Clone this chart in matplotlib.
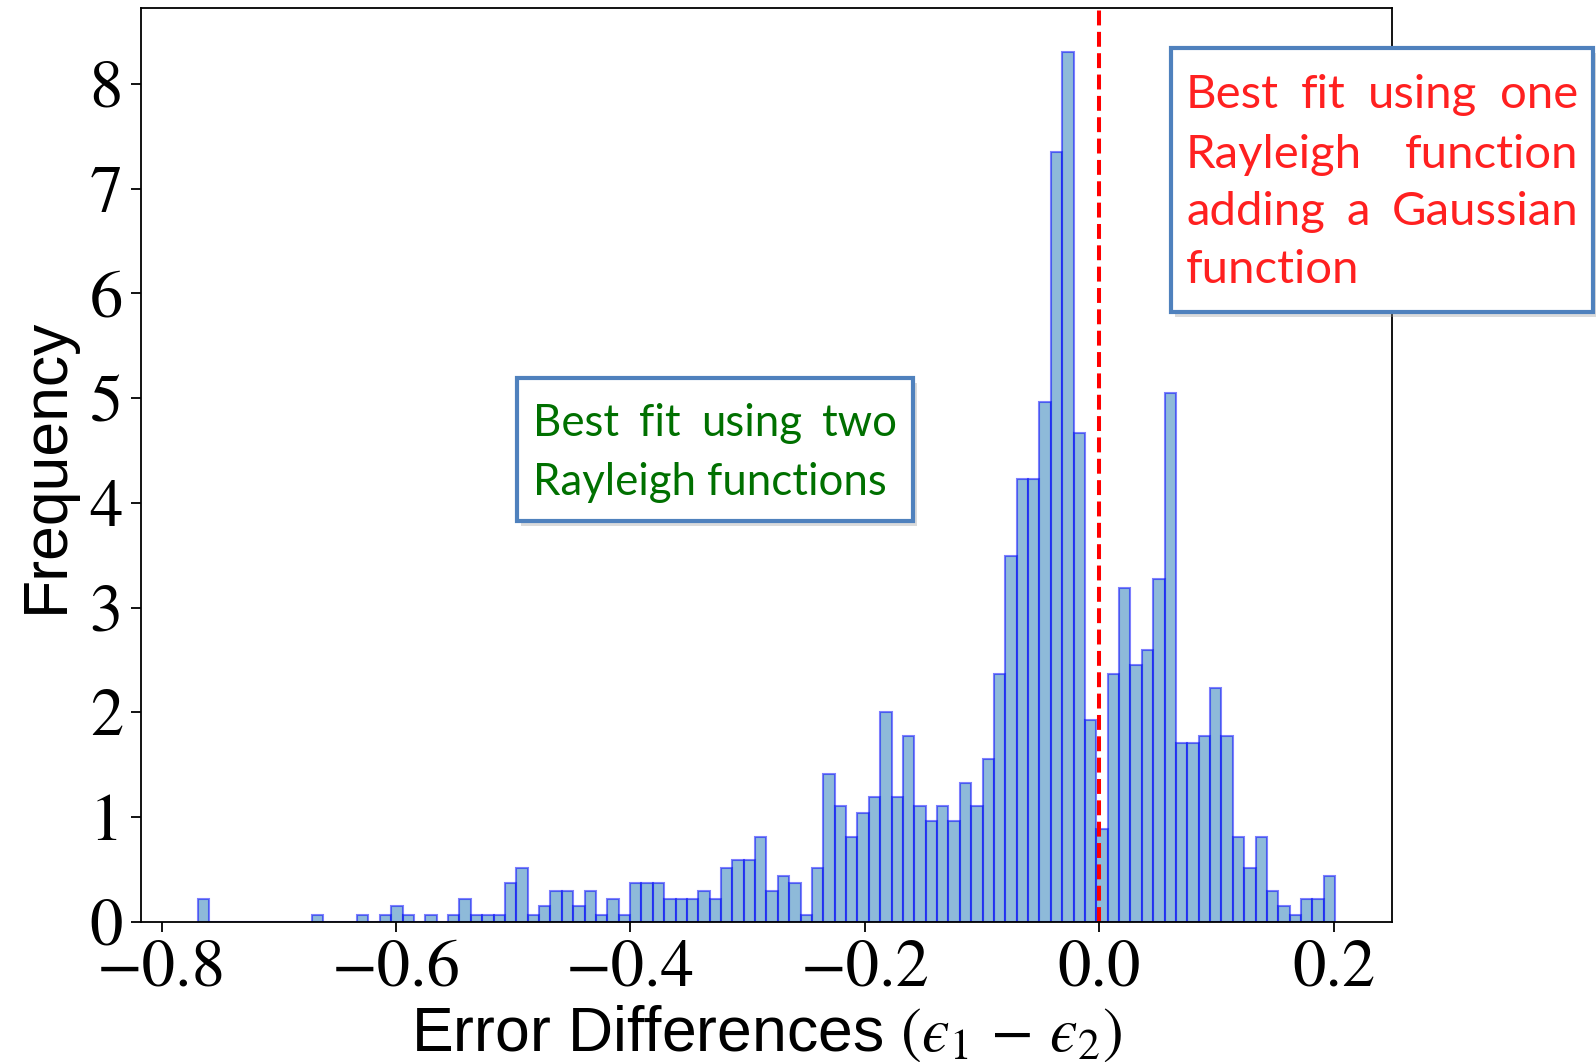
import numpy as np
import matplotlib
matplotlib.use("Agg")
import matplotlib.pyplot as plt
from matplotlib.patches import Rectangle
from matplotlib.ticker import MultipleLocator

plt.rcParams['mathtext.fontset'] = 'stix'

# Histogram: 100 equal bins between the data extremes
data_min, data_max = -0.769, 0.201
n_bins = 100
frequency = [
    0.22, 0, 0, 0, 0, 0, 0, 0, 0, 0,
    0.07, 0, 0, 0, 0.07, 0, 0.07, 0.15, 0.07, 0,
    0.07, 0, 0.07, 0.22, 0.07, 0.07, 0.07, 0.37, 0.52, 0.07,
    0.15, 0.30, 0.30, 0.15, 0.30, 0.07, 0.22, 0.07, 0.37, 0.37,
    0.37, 0.22, 0.22, 0.22, 0.30, 0.22, 0.52, 0.59, 0.59, 0.81,
    0.30, 0.44, 0.37, 0.07, 0.52, 1.41, 1.11, 0.81, 1.04, 1.19,
    2.00, 1.19, 1.78, 1.11, 0.96, 1.11, 0.96, 1.33, 1.11, 1.56,
    2.37, 3.49, 4.23, 4.23, 4.96, 7.35, 8.31, 4.67, 1.93, 0.89,
    2.37, 3.19, 2.45, 2.60, 3.27, 5.05, 1.71, 1.71, 1.78, 2.23,
    1.78, 0.81, 0.52, 0.81, 0.30, 0.15, 0.07, 0.22, 0.22, 0.44,
]

green_lines = ["Best fit using two", "Rayleigh functions"]
red_lines = ["Best fit using one", "Rayleigh function",
             "adding a Gaussian", "function"]

W, H = 1596, 1062
fig = plt.figure(figsize=(W / 100, H / 100), dpi=100)
ax = fig.add_axes([141 / W, 140 / H, 1251 / W, 914 / H])

edges = np.linspace(data_min, data_max, n_bins + 1)
centers = (edges[:-1] + edges[1:]) / 2
ax.hist(centers, bins=edges, weights=frequency, color='#1f77b4',
        edgecolor='blue', linewidth=1.5, alpha=0.5)
ax.axvline(0, color='red', linestyle='--', linewidth=2.9)

ax.yaxis.set_major_locator(MultipleLocator(1))
ax.tick_params(labelsize=48, labelfontfamily='STIXGeneral', length=7,
               width=1.3, pad=6)
for s in ax.spines.values():
    s.set_linewidth(1.3)

ax.set_xlabel("Error Differences $\\left(\u03f5_1\\,-\\,\u03f5_2\\right)$",
              fontsize=45, family='Liberation Sans', labelpad=2)
ax.set_ylabel("Frequency", fontsize=45, family='Liberation Sans', labelpad=10)

renderer = fig.canvas.get_renderer()


def text_box(lines, box, left, right, baselines, color, size):
    # box in pixel coords (x0, y0_top, x1, y1_bottom)
    x0, y0, x1, y1 = box
    fig.patches.append(Rectangle(((x0 + 4) / W, 1 - (y1 + 5) / H),
                                 (x1 - x0) / W, (y1 - y0) / H,
                                 transform=fig.transFigure, facecolor='#999999',
                                 edgecolor='none', alpha=0.35, zorder=5))
    fig.patches.append(Rectangle((x0 / W, 1 - y1 / H), (x1 - x0) / W,
                                 (y1 - y0) / H, transform=fig.transFigure,
                                 facecolor='white', edgecolor='#4F81BD',
                                 linewidth=3, zorder=6))
    for k, line in enumerate(lines):
        words = line.split()
        y = 1 - baselines[k] / H
        texts = [fig.text(0, y, w, color=color, fontsize=size, family='Lato',
                          va='baseline', ha='left', zorder=7) for w in words]
        widths = [t.get_window_extent(renderer).width for t in texts]
        last = k == len(lines) - 1
        if last or len(words) == 1:
            gap = renderer.points_to_pixels(size) * 0.25
        else:
            gap = (right - left - sum(widths)) / (len(words) - 1)
        x = left
        for t, w in zip(texts, widths):
            t.set_x(x / W)
            x += w + gap


text_box(green_lines, (517, 378, 913, 521), 533, 897, [436, 495],
         '#007000', 31.5)
text_box(red_lines, (1171, 48, 1593, 312), 1186, 1578, [108, 168, 225, 283],
         '#FF2020', 34)

fig.savefig("out.png", dpi=100)
